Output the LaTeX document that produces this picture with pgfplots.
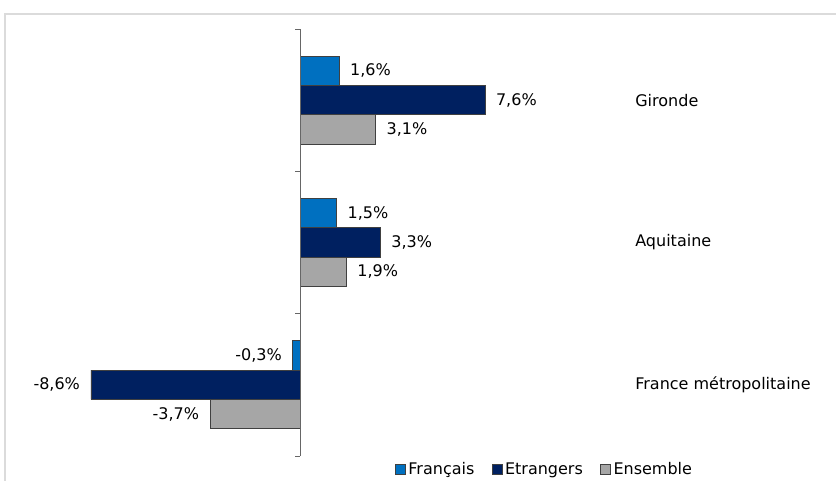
\documentclass[border=0pt]{standalone}
\usepackage{fontspec}
\setmainfont{DejaVu Sans}
\usepackage{pgfplots}
\pgfplotsset{compat=1.18}

\definecolor{cFr}{HTML}{0070C0}
\definecolor{cEt}{HTML}{002060}
\definecolor{cEn}{HTML}{A6A6A6}
\definecolor{cEdge}{HTML}{404040}

% categories: 2 = Gironde, 1 = Aquitaine, 0 = France metropolitaine
\pgfplotstableread{
y  val
2  1.6
1  1.5
0  -0.3
}\francais
\pgfplotstableread{
y  val
2  7.6
1  3.3
0  -8.6
}\etrangers
\pgfplotstableread{
y  val
2  3.1
1  1.9
0  -3.7
}\ensemble

\begin{document}
\fontsize{12}{14}\selectfont
\begin{tikzpicture}
\path[use as bounding box] (0,0) rectangle (627pt,360.75pt);
\draw[black!14, line width=1.1pt] (3.75pt,350.25pt) rectangle (700pt,-20pt);
\begin{axis}[
  at={(68.25pt,18.75pt)}, anchor=south west,
  scale only axis, width=295.5pt, height=320.25pt,
  xmin=-8.6, xmax=7.6, ymin=-0.5, ymax=2.5,
  axis line style={draw=none}, xtick=\empty, ytick=\empty,
  clip=false,
  xbar, bar width=22pt,
  /pgf/number format/assume math mode=true,
  nodes near coords={\pgfmathprintnumber[fixed,fixed zerofill,precision=1,use comma]{\pgfplotspointmeta}\%},
  nodes near coords style={inner xsep=8pt, font=\fontsize{12}{14}\selectfont},
  every axis plot/.append style={draw=cEdge, line width=0.6pt},
  legend columns=3,
  legend style={draw=none, fill=none, at={(1.152,-0.033)}, anchor=center,
    font=\fontsize{12}{14}\selectfont,
    /tikz/every odd column/.append style={column sep=0pt},
    /tikz/every even column/.append style={column sep=11pt}},
  legend image code/.code={\draw[#1, draw=cEdge, line width=0.5pt] (0pt,-3.5pt) rectangle (7.5pt,4pt);},
]
\addplot[fill=cFr, bar shift=22pt] table[x=val, y=y] {\francais};
\addlegendentry{Français}
\addplot[fill=cEt, bar shift=0pt] table[x=val, y=y] {\etrangers};
\addlegendentry{Etrangers}
\addplot[fill=cEn, bar shift=-22pt] table[x=val, y=y] {\ensemble};
\addlegendentry{Ensemble}

\draw[black!60, line width=0.6pt] (axis cs:0,-0.5) -- (axis cs:0,2.5);
\pgfplotsinvokeforeach{-0.5,0.5,1.5,2.5}{
  \draw[black!60, line width=0.6pt] (axis cs:0,#1) -- ++(-4pt,0pt);
}
\node[anchor=west, inner sep=0pt] at (axis cs:13.77,2) {Gironde};
\node[anchor=west, inner sep=0pt] at (axis cs:13.77,1) {Aquitaine};
\node[anchor=west, inner sep=0pt] at (axis cs:13.77,0) {France métropolitaine};
\end{axis}
\end{tikzpicture}
\end{document}
